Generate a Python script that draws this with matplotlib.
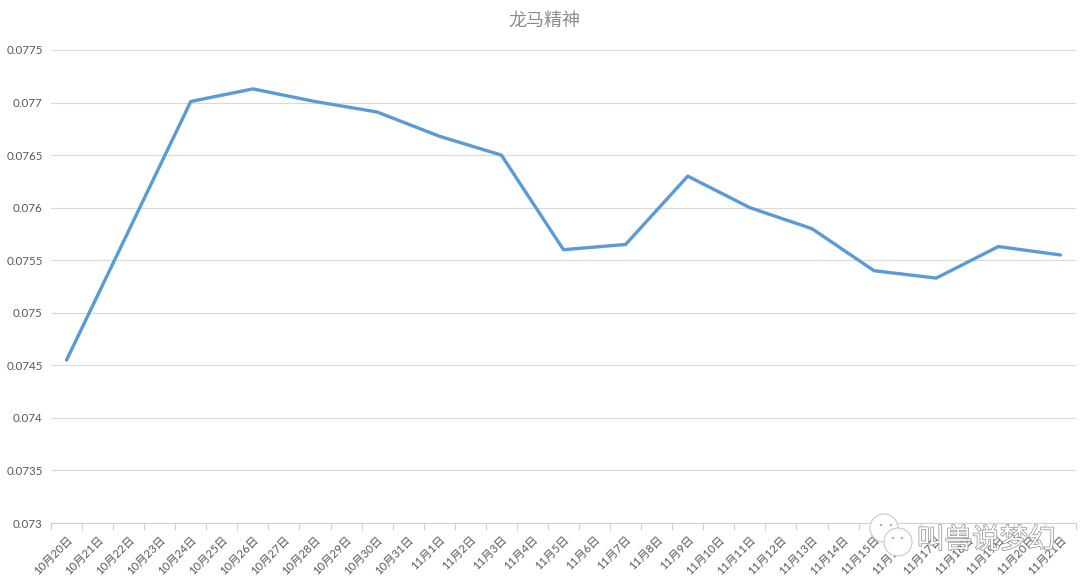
import numpy as np
import matplotlib
matplotlib.use("Agg")
import matplotlib.pyplot as plt
import matplotlib.patheffects as pe
from matplotlib.patches import Circle
from matplotlib.transforms import Affine2D

plt.rcParams['font.family'] = ['Lato', 'Noto Sans CJK SC', 'DejaVu Sans']

dates = ["10月20日", "10月21日", "10月22日", "10月23日", "10月24日", "10月25日", "10月26日",
         "10月27日", "10月28日", "10月29日", "10月30日", "10月31日", "11月1日", "11月2日",
         "11月3日", "11月4日", "11月5日", "11月6日", "11月7日", "11月8日", "11月9日",
         "11月10日", "11月11日", "11月12日", "11月13日", "11月14日", "11月15日", "11月16日",
         "11月17日", "11月18日", "11月19日", "11月20日", "11月21日"]

# 只有隔天有数据，空的地方直接连线
point_dates = ["10月20日", "10月24日", "10月26日", "10月28日", "10月30日", "11月1日", "11月3日",
               "11月5日", "11月7日", "11月9日", "11月11日", "11月13日", "11月15日", "11月17日",
               "11月19日", "11月21日"]
values = [0.07455, 0.07701, 0.07713, 0.07701, 0.07691, 0.07668, 0.0765,
          0.0756, 0.07565, 0.0763, 0.076, 0.0758, 0.0754, 0.07533,
          0.07563, 0.07555]

y_ticks = [0.073, 0.0735, 0.074, 0.0745, 0.075, 0.0755, 0.076, 0.0765, 0.077, 0.0775]
y_labels = ["0.073", "0.0735", "0.074", "0.0745", "0.075", "0.0755", "0.076", "0.0765", "0.077", "0.0775"]

fig = plt.figure(figsize=(10.89, 5.87), dpi=100)
ax = fig.add_axes([51 / 1089, 1 - 523 / 587, (1076 - 51) / 1089, (523 - 50) / 587])

x = [dates.index(d) for d in point_dates]
ax.plot(x, values, color="#5B9BD5", linewidth=2.4, solid_capstyle="round", zorder=3)

ax.set_xlim(-0.5, len(dates) - 0.5)
ax.set_ylim(0.073, 0.0775)
ax.set_yticks(y_ticks)
ax.set_yticklabels(y_labels, fontsize=8.4, color="#595959")
ax.grid(axis="y", color="#D9D9D9", linewidth=0.8)
ax.set_axisbelow(True)

for name in ["top", "right", "left"]:
    ax.spines[name].set_visible(False)
ax.spines["bottom"].set_color("#D0D0D0")
ax.tick_params(axis="y", length=0, pad=6)

# 刻度线在两个类别之间
ax.set_xticks(np.arange(len(dates) + 1) - 0.5)
ax.set_xticklabels([])
ax.tick_params(axis="x", which="major", length=5, color="#D0D0D0", direction="out")
ax.set_xticks(np.arange(len(dates)), minor=True)
ax.set_xticklabels(dates, minor=True, rotation=45, ha="right", va="top", rotation_mode="anchor",
                   fontsize=8.2, color="#595959")
ax.tick_params(axis="x", which="minor", length=0, pad=8)

fig.text(544 / 1089, 1 - 20 / 587, "龙马精神", fontsize=13, color="#8C8C8C", ha="center", va="center")

# 水印
outline = [pe.withStroke(linewidth=1.0, foreground="#8C8C8C")]
fig.text(986 / 1089, 1 - 540 / 587, "叫兽说梦幻", fontsize=20, color="white", ha="center", va="center",
         path_effects=outline, zorder=6)

# 图标用像素坐标画，保证是正圆
pixel = Affine2D().scale(1, -1).translate(0, 587)
for cx, cy, r in [(884, 528, 14), (898, 542, 14)]:
    fig.add_artist(Circle((cx, cy), r, transform=pixel, facecolor="white",
                          edgecolor="#C8C8C8", linewidth=0.8, zorder=6))
for cx, cy in [(881, 525), (891, 525), (893, 538), (902, 538)]:
    fig.add_artist(Circle((cx, cy), 1.2, transform=pixel, facecolor="#B0B0B0",
                          edgecolor="none", zorder=7))

fig.savefig("out.png", dpi=100)
